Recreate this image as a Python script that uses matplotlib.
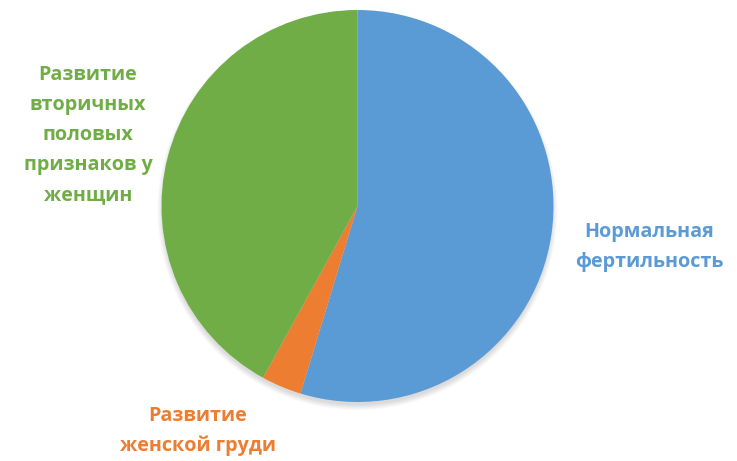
import matplotlib.pyplot as plt
from matplotlib.patches import Circle

# slice shares (percent), clockwise from 12 o'clock
labels = ['Нормальная\nфертильность', 'Развитие\nженской груди',
          'Развитие\nвторичных\nполовых\nпризнаков у\nженщин']
values = [54.7, 3.3, 42.0]
colors = ['#5B9BD5', '#ED7D31', '#70AD47']

fig = plt.figure(figsize=(7.37, 4.61), dpi=100)
ax = fig.add_axes([0, 0, 1, 1])

cx, cy, r = 357.5, 255, 196

# soft shadow under the pie
for k in range(6):
    ax.add_patch(Circle((cx, cy - 4), r - 1 + k, color='black',
                        alpha=0.025, linewidth=0, zorder=0))

ax.pie(values, colors=colors, startangle=90, counterclock=False,
       center=(cx, cy), radius=r,
       wedgeprops=dict(linewidth=0, zorder=2))
ax.set_xlim(0, 737)
ax.set_ylim(0, 461)
ax.set_aspect('equal')
ax.axis('off')

# label positions next to each slice
label_pos = [(649, 214), (198, 30), (88, 326)]
for lab, col, (x, y) in zip(labels, colors, label_pos):
    ax.text(x, y, lab, color=col, fontsize=14.2, fontweight='bold',
            family='Open Sans', ha='center', va='center', linespacing=1.66)

fig.savefig('out.png', dpi=100)
